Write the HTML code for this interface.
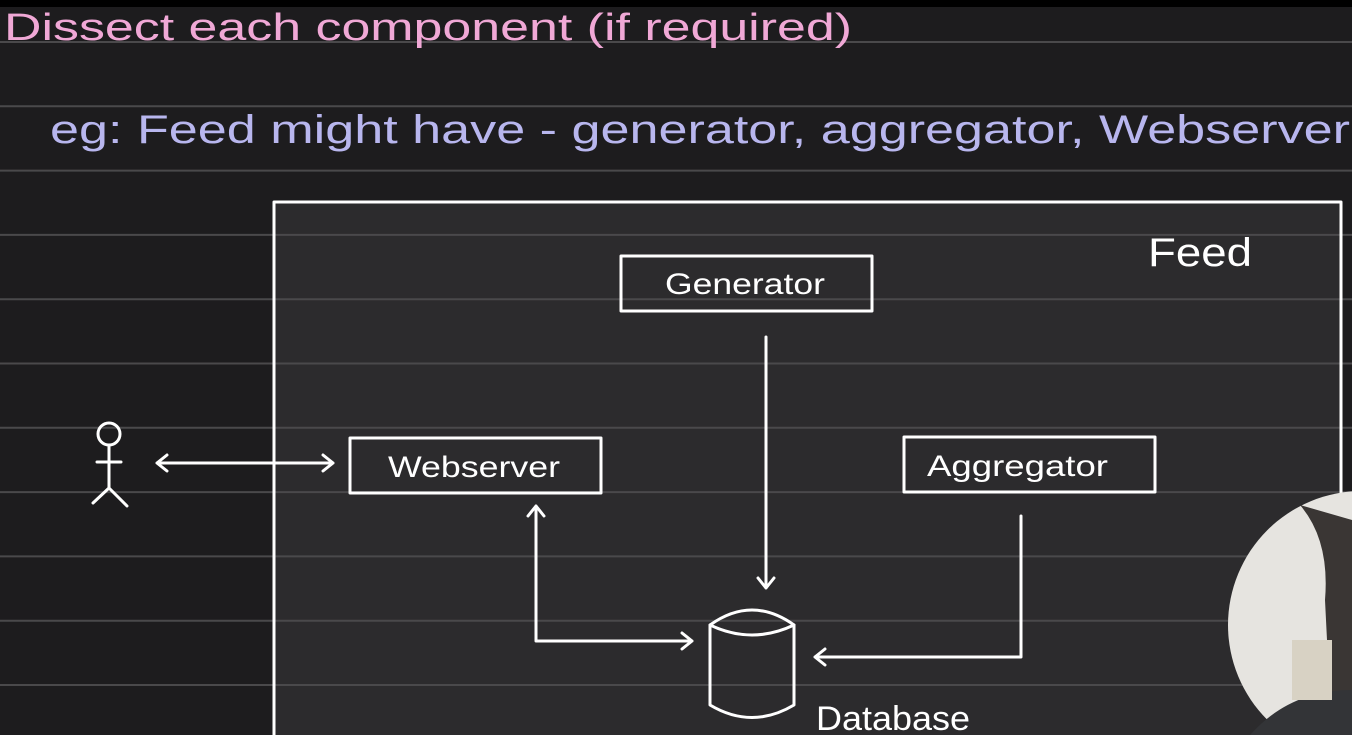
<!DOCTYPE html>
<html><head><meta charset="utf-8"><style>
html,body{margin:0;padding:0;background:#1d1c1e;width:1352px;height:735px;overflow:hidden}
svg{display:block}
text{font-family:"Liberation Sans",sans-serif}
</style></head><body>
<svg width="1352" height="735" viewBox="0 0 1352 735">
<rect x="0" y="0" width="1352" height="735" fill="#1d1c1e"/>
<rect x="274" y="202" width="1067" height="540" fill="#2c2b2d"/>
<g id="rules" stroke="#4a494b" stroke-width="2"></g>
<rect x="0" y="0" width="1352" height="7" fill="#000"/>
<text x="4" y="40" font-size="38" fill="#f0a8d6" textLength="848" lengthAdjust="spacingAndGlyphs">Dissect each component (if required)</text>
<text x="50" y="143" font-size="40" fill="#b8b6ee" textLength="1300" lengthAdjust="spacingAndGlyphs">eg:  Feed  might  have  -  generator,  aggregator,  Webserver</text>
<g fill="none" stroke="#ffffff" stroke-width="3" stroke-linecap="round" stroke-linejoin="round">
<rect x="274" y="202" width="1067" height="560"/>
<rect x="621" y="256" width="251" height="55"/>
<rect x="350" y="438" width="251" height="55"/>
<rect x="904" y="437" width="251" height="55"/>
<g>
<circle cx="109" cy="434" r="11"/><path d="M109 445 V488 M97 462 H121 M109 488 L93 503 M109 488 L127 506"/></g>
<path d="M157 463 H333 M167 455 L157 463 L167 471 M323 455 L333 463 L323 471"/>
<path d="M766 337 V588 M758 578 L766 588 L774 578"/>
<path d="M536 506 V641 H692 M528 516 L536 506 L544 516 M682 633 L692 641 L682 649"/>
<path d="M1021 516 V657 H815 M825 649 L815 657 L825 665"/>
<g>
<path d="M710 625 Q752 595 794 625 Q752 645 710 625 Z"/>
<path d="M710 625 V705 Q752 730 794 705 V625"/></g>
</g>
<text x="665" y="294" font-size="30" fill="#fff" textLength="160" lengthAdjust="spacingAndGlyphs">Generator</text>
<text x="388" y="477" font-size="30" fill="#fff" textLength="172" lengthAdjust="spacingAndGlyphs">Webserver</text>
<text x="927" y="476" font-size="30" fill="#fff" textLength="181" lengthAdjust="spacingAndGlyphs">Aggregator</text>
<text x="1148" y="266" font-size="40" fill="#fff" textLength="104" lengthAdjust="spacingAndGlyphs">Feed</text>
<text x="816" y="730" font-size="34" fill="#fff" textLength="154" lengthAdjust="spacingAndGlyphs">Database</text>
<g>
<circle cx="1362" cy="625" r="134" fill="#e6e4e0"/>
<path d="M1300 505 Q1330 540 1325 600 L1330 700 L1352 700 V520 Z" fill="#3a3634"/>
<path d="M1250 735 Q1290 690 1352 690 V735 Z" fill="#333437"/>
<rect x="1292" y="640" width="40" height="60" fill="#d8d2c4"/>
</g>
</svg>
<script>
const g=document.getElementById('rules');
for(let y=42;y<735;y+=64.3){
 const l=document.createElementNS('http://www.w3.org/2000/svg','line');
 
 
 l.setAttribute('x1',0);l.setAttribute('x2',1352);l.setAttribute('y1',y);l.setAttribute('y2',y);
 g.appendChild(l);
}
</script>
</body></html>
